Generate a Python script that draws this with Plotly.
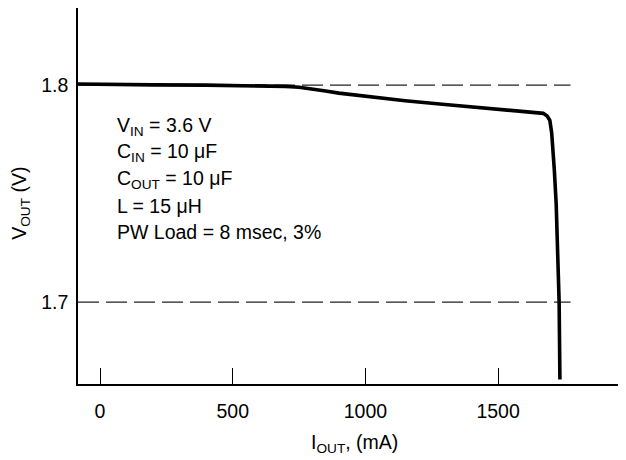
import plotly.graph_objects as go

# Data
iout = [-83, 0, 200, 400, 600, 700, 750, 800, 850, 900, 1000, 1150, 1300, 1500, 1600,
        1670, 1685, 1695, 1702, 1708, 1712, 1719, 1723, 1728, 1730, 1733]
vout = [1.8005, 1.8003, 1.8001, 1.8000, 1.7997, 1.7994, 1.7990, 1.7983, 1.7973, 1.7963,
        1.7948, 1.7928, 1.7911, 1.7888, 1.7878, 1.7870, 1.7858, 1.7838, 1.7780,
        1.7700, 1.7607, 1.7450, 1.7300, 1.7100, 1.7000, 1.6644]

ref_levels = [1.8, 1.7]
ref_x = [-83, 1773]

x_ticks = [0, 500, 1000, 1500]
y_ticks = [1.7, 1.8]

cond_lines = ["V<sub>IN</sub> = 3.6 V",
              "C<sub>IN</sub> = 10 μF",
              "C<sub>OUT</sub> = 10 μF",
              "L = 15 μH",
              "PW Load = 8 msec, 3%"]
cond_y = [1.7808, 1.7688, 1.7563, 1.7443, 1.7323]

FONT = "Liberation Sans, Arial, sans-serif"
FS = 19.5

# The page body has an 8px margin, so margins are shifted to compensate
fig = go.Figure()

for lv in ref_levels:
    fig.add_trace(go.Scatter(x=ref_x, y=[lv, lv], mode="lines",
                             line=dict(color="#222", width=1.2, dash="21px,7px"),
                             hoverinfo="skip", showlegend=False))

fig.add_trace(go.Scatter(x=iout, y=vout, mode="lines",
                         line=dict(color="black", width=3.6),
                         showlegend=False))

for txt, yy in zip(cond_lines, cond_y):
    fig.add_annotation(x=55, y=yy, xref="x", yref="y", text=txt,
                       showarrow=False, xanchor="left", yanchor="middle",
                       font=dict(family=FONT, size=FS, color="black"))

# plot area: x 70.3..618 (w 547.7), y 0..375.7 (h 375.7) in div pixels
fig.add_annotation(x=(346.5 - 70.3) / 547.7, y=(375.7 - 435) / 375.7,
                   xref="paper", yref="paper",
                   text="I<sub>OUT</sub>, (mA)", showarrow=False,
                   xanchor="center", yanchor="middle",
                   font=dict(family=FONT, size=FS, color="black"))
fig.add_annotation(x=(12 - 70.3) / 547.7, y=(375.7 - 195) / 375.7,
                   xref="paper", yref="paper",
                   text="V<sub>OUT</sub> (V)", showarrow=False, textangle=-90,
                   xanchor="center", yanchor="middle",
                   font=dict(family=FONT, size=FS, color="black"))

fig.update_layout(
    width=626, height=460,
    margin=dict(l=70.3, r=8, t=0, b=84.3),
    paper_bgcolor="white", plot_bgcolor="white",
    font=dict(family=FONT, size=FS, color="black"),
    showlegend=False,
    xaxis=dict(range=[-83, 1982], tickvals=x_ticks, ticks="inside", ticklen=16,
               tickwidth=1.2, tickcolor="black", showline=True, linecolor="black",
               linewidth=1.5, showgrid=False, zeroline=False,
               ticklabelstandoff=9),
    yaxis=dict(range=[1.6623, 1.83553], tickvals=y_ticks, tickformat=".1f",
               ticks="", showline=True, linecolor="black", linewidth=1.5,
               showgrid=False, zeroline=False, ticklabelstandoff=4),
)

fig.write_html("out.html")
